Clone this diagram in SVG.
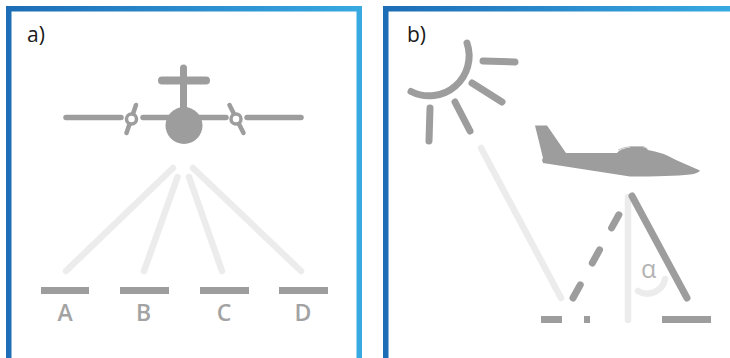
<svg xmlns="http://www.w3.org/2000/svg" width="730" height="358" viewBox="0 0 730 358">
  <defs>
    <linearGradient id="frameA" gradientUnits="userSpaceOnUse" x1="6" y1="0" x2="362" y2="0">
      <stop offset="0" stop-color="#1d6db7"/>
      <stop offset="1" stop-color="#38a9e1"/>
    </linearGradient>
    <linearGradient id="frameB" gradientUnits="userSpaceOnUse" x1="383" y1="0" x2="730" y2="0">
      <stop offset="0" stop-color="#1d6db7"/>
      <stop offset="1" stop-color="#38a9e1"/>
    </linearGradient>
  </defs>
  <style>
    .frame { fill: #ffffff; stroke-width: 5.5; }
    .panel-label { font-family: "Open Sans", "Liberation Sans", sans-serif; font-size: 21px; fill: #1a1a1a; }
    .site-label { font-family: "Open Sans", "Liberation Sans", sans-serif; font-size: 23px; font-weight: 600; fill: #a3a3a3; text-anchor: middle; }
    .grey { stroke: #9d9d9d; fill: none; stroke-linecap: round; }
    .beam { stroke: #ececec; fill: none; stroke-linecap: round; stroke-width: 6.5; }
    .ground { fill: #9d9d9d; }
    .fill-grey { fill: #9d9d9d; }
  </style>

  <!-- panel frames -->
  <rect class="frame" x="8.75" y="8.75" width="350.5" height="360" stroke="url(#frameA)"/>
  <rect class="frame" x="385.75" y="8.75" width="360" height="360" stroke="url(#frameB)"/>

  <!-- panel a: front view of a twin-prop aircraft viewing four sites -->
  <g id="panel-a">
    <text class="panel-label" x="27" y="42">a)</text>

    <g id="aircraft-front">
      <line class="grey" x1="183.5" y1="68" x2="183.5" y2="112" stroke-width="7"/>
      <line class="grey" x1="162" y1="80.5" x2="206" y2="80.5" stroke-width="8"/>
      <line class="grey" x1="66" y1="117.5" x2="121" y2="117.5" stroke-width="5.5"/>
      <line class="grey" x1="143" y1="117.5" x2="226" y2="117.5" stroke-width="5.5"/>
      <line class="grey" x1="247" y1="117.5" x2="301" y2="117.5" stroke-width="5.5"/>
      <line class="grey" x1="136" y1="105" x2="126.5" y2="133" stroke-width="4.5"/>
      <line class="grey" x1="229.5" y1="105" x2="243.5" y2="133" stroke-width="4.5"/>
      <circle cx="131.5" cy="119" r="5" fill="#ffffff" stroke="#9d9d9d" stroke-width="3.5"/>
      <circle cx="236" cy="119" r="5" fill="#ffffff" stroke="#9d9d9d" stroke-width="3.5"/>
      <circle class="fill-grey" cx="184" cy="125.5" r="18.5"/>
    </g>

    <g id="beams-a">
      <line class="beam" x1="173" y1="168" x2="66" y2="271"/>
      <line class="beam" x1="177.5" y1="177" x2="144" y2="271"/>
      <line class="beam" x1="189" y1="177" x2="222" y2="271"/>
      <line class="beam" x1="193" y1="168" x2="301" y2="271"/>
    </g>

    <g id="site-A">
      <rect class="ground" x="41" y="287" width="48" height="7"/>
      <text class="site-label" x="65" y="321">A</text>
    </g>
    <g id="site-B">
      <rect class="ground" x="120" y="287" width="49" height="7"/>
      <text class="site-label" x="143.5" y="321">B</text>
    </g>
    <g id="site-C">
      <rect class="ground" x="200" y="287" width="49" height="7"/>
      <text class="site-label" x="224" y="321">C</text>
    </g>
    <g id="site-D">
      <rect class="ground" x="279" y="287" width="49" height="7"/>
      <text class="site-label" x="303" y="321">D</text>
    </g>
  </g>

  <!-- panel b: sun, aircraft and viewing angle -->
  <g id="panel-b">
    <text class="panel-label" x="407" y="42">b)</text>

    <g id="sun">
      <path class="grey" stroke-width="7" d="M467,43 A40,40 0 0 1 411,91.5"/>
      <line class="grey" x1="483" y1="61" x2="515" y2="62" stroke-width="7"/>
      <line class="grey" x1="472" y1="83" x2="502" y2="102" stroke-width="7"/>
      <line class="grey" x1="455" y1="102" x2="470" y2="131" stroke-width="7"/>
      <line class="grey" x1="430" y1="108" x2="429" y2="141" stroke-width="7"/>
    </g>

    <g id="aircraft-side">
      <path class="fill-grey" d="M535,125.5 L547,125.5 L566,153 L617,153 Q619,149 631,147 L643,147 Q647,148 648,150 Q662,152 676,160 L700,170.5 Q698,173.5 690,174.5 Q670,176.5 630,176.5 L543,163 L542,160 L543,158 Z"/>
      <path d="M618,150 Q622,147.5 631,146.5 L643,146.5 Q647,147.5 648,150" fill="none" stroke="#c4c4c4" stroke-width="1"/>
    </g>

    <g id="rays-b">
      <line class="beam" x1="481" y1="148" x2="561" y2="298" stroke-width="7"/>
      <line class="beam" x1="628" y1="197" x2="628" y2="320" stroke-width="7"/>
      <path class="beam" d="M638,291 A18,18 0 0 0 665,279" stroke-width="6"/>
      <line class="grey" x1="573" y1="298" x2="627" y2="200" stroke-width="7" stroke-dasharray="15 25"/>
      <line class="grey" x1="632" y1="196" x2="687" y2="298" stroke-width="7"/>
    </g>

    <text x="641" y="278" font-family="'Open Sans', 'DejaVu Sans', sans-serif" font-size="25" fill="#b3b3b3">α</text>

    <g id="ground-b">
      <rect class="ground" x="541" y="316" width="21" height="7"/>
      <rect class="ground" x="584" y="316" width="6" height="7"/>
      <rect class="ground" x="662" y="316" width="49" height="7"/>
    </g>
  </g>
</svg>
